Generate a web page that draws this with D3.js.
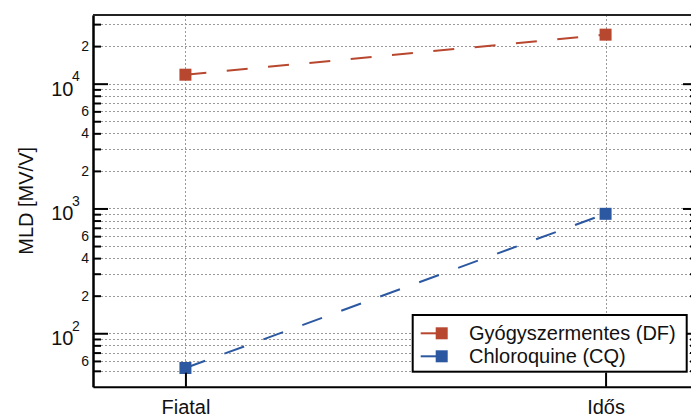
<!DOCTYPE html>
<html>
<head>
<meta charset="utf-8">
<script src="https://cdn.jsdelivr.net/npm/d3@7"></script>
<style>
  html, body { margin: 0; padding: 0; background: #fff; }
  svg { display: block; font-family: "Liberation Sans", Arial, Helvetica, sans-serif; }
</style>
</head>
<body>
<svg id="chart" width="691" height="416"></svg>
<script>
// Groups on the x axis
const categories = ["Fiatal", "Idős"];

// MLD values [MV/V] per group
const seriesNames = ["Gyógyszermentes (DF)", "Chloroquine (CQ)"];
const dfValues = [11800, 24700];
const cqValues = [52.7, 906];
const seriesColors = ["#b8472f", "#2b58a1"];

// Log axis range and labelled minor ticks
const yDomain = [37.3, 35500];
const labelledMinor = [2, 4, 6];
const lowestTick = 50;
const yLabel = "MLD [MV/V]";

const W = 691, H = 416;
const margin = { top: 15, right: -7, bottom: 29.3, left: 93 };
const x0 = margin.left, x1 = W - margin.right;
const yTop = margin.top, yBot = H - margin.bottom;

const svg = d3.select("#chart");

const x = d3.scalePoint().domain(categories).range([x0, x1]).padding(0.22);
const y = d3.scaleLog().domain(yDomain).range([yBot, yTop]);

const allTicks = y.ticks().filter(v => v >= lowestTick);
const mant = v => Math.round(v / Math.pow(10, Math.floor(Math.log10(v) + 1e-9)));
const majors = allTicks.filter(v => mant(v) === 1);
const minors = allTicks.filter(v => mant(v) !== 1);

// Dotted grid
const grid = svg.append("g").attr("stroke", "#9a9a9a").attr("stroke-width", 1)
  .attr("stroke-dasharray", "2,2").attr("fill", "none");
grid.selectAll("line.h").data(allTicks).join("line").attr("class", "h")
  .attr("x1", x0).attr("x2", x1)
  .attr("y1", d => Math.round(y(d)) + 0.5).attr("y2", d => Math.round(y(d)) + 0.5);
grid.selectAll("line.v").data(categories).join("line").attr("class", "v")
  .attr("x1", d => Math.round(x(d)) + 0.5).attr("x2", d => Math.round(x(d)) + 0.5)
  .attr("y1", yTop).attr("y2", yBot);

// Series lines and square markers
const series = [dfValues, cqValues].map((vals, i) => ({
  name: seriesNames[i], color: seriesColors[i],
  points: categories.map((c, j) => ({ c, v: vals[j] }))
}));
const line = d3.line().x(d => x(d.c)).y(d => y(d.v));
const sg = svg.append("g");
series.forEach(s => {
  sg.append("path").datum(s.points).attr("d", line)
    .attr("fill", "none").attr("stroke", s.color).attr("stroke-width", 2)
    .attr("stroke-dasharray", "21,20.5");
  sg.selectAll(null).data(s.points).join("rect")
    .attr("x", d => x(d.c) - 6).attr("y", d => y(d.v) - 6)
    .attr("width", 12).attr("height", 12).attr("fill", s.color);
});

// Axes
function styleAxis(g) {
  g.select(".domain").attr("stroke", "#000").attr("stroke-width", 2);
  g.selectAll(".tick line").attr("stroke", "#000").attr("stroke-width", 2);
  g.selectAll(".tick text").attr("fill", "#111");
}

const leftMinor = svg.append("g").attr("transform", `translate(${x0},0)`)
  .call(d3.axisLeft(y).tickValues(minors).tickSize(-8).tickSizeOuter(0).tickPadding(4)
    .tickFormat(d => labelledMinor.includes(mant(d)) ? String(mant(d)) : ""))
  .call(styleAxis);
leftMinor.selectAll(".tick text").attr("font-size", 14).attr("font-family", null);

const leftMajor = svg.append("g").attr("transform", `translate(${x0},0)`)
  .call(d3.axisLeft(y).tickValues(majors).tickSize(-15).tickSizeOuter(0).tickFormat(""))
  .call(styleAxis);
const decade = leftMajor.selectAll(".tick");
decade.append("text").attr("x", -19.5).attr("y", 11.5).attr("text-anchor", "end")
  .attr("font-size", 20).attr("fill", "#111").attr("dy", null).text("10");
decade.append("text").attr("x", -21).attr("y", -2.7).attr("text-anchor", "start")
  .attr("font-size", 14).attr("fill", "#111")
  .text(d => String(Math.round(Math.log10(d))));

svg.append("g").attr("transform", `translate(${x1},0)`)
  .call(d3.axisRight(y).tickValues(minors).tickSize(-8).tickSizeOuter(0).tickFormat(""))
  .call(styleAxis);
svg.append("g").attr("transform", `translate(${x1},0)`)
  .call(d3.axisRight(y).tickValues(majors).tickSize(-15).tickSizeOuter(0).tickFormat(""))
  .call(styleAxis);

const bottom = svg.append("g").attr("transform", `translate(0,${yBot})`)
  .call(d3.axisBottom(x).tickSize(-14).tickSizeOuter(0).tickPadding(13.4))
  .call(styleAxis);
bottom.selectAll(".tick text").attr("font-size", 20).attr("font-family", null);

// Top frame line
svg.append("line").attr("x1", x0).attr("x2", x1).attr("y1", yTop).attr("y2", yTop)
  .attr("stroke", "#222").attr("stroke-width", 2);

// Y axis title
svg.append("text").attr("transform", `translate(33,${(yTop + yBot) / 2}) rotate(-90)`)
  .attr("text-anchor", "middle").attr("font-size", 20).attr("fill", "#111").text(yLabel);

// Legend
const lg = svg.append("g").attr("transform", "translate(412.7,315)");
lg.append("rect").attr("width", 274).attr("height", 56.7)
  .attr("fill", "#fff").attr("stroke", "#000").attr("stroke-width", 2);
series.forEach((s, i) => {
  const cy = 18.3 + i * 23;
  lg.append("line").attr("x1", 8).attr("x2", 29).attr("y1", cy).attr("y2", cy)
    .attr("stroke", s.color).attr("stroke-width", 2);
  lg.append("rect").attr("x", 23).attr("y", cy - 6).attr("width", 12).attr("height", 12)
    .attr("fill", s.color);
  lg.append("text").attr("x", 56.3).attr("y", cy + 6.3).attr("font-size", 20)
    .attr("fill", "#111").text(s.name);
});
</script>
</body>
</html>
